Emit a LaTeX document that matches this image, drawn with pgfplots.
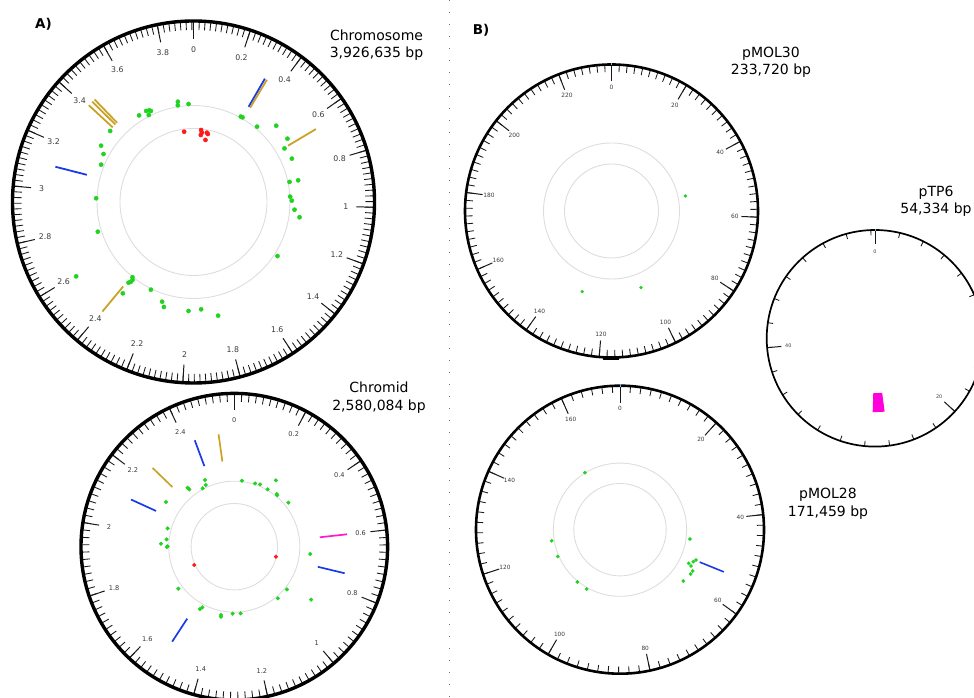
\documentclass[border=0pt]{standalone}
\usepackage{pgfplots}
\pgfplotsset{compat=1.18}
\usepackage{pgfplotstable}
\usepackage{fontspec}
\setmainfont{DejaVu Sans}
\definecolor{dgreen}{HTML}{1FD31F}
\definecolor{dred}{HTML}{FF1A1A}
\definecolor{dgold}{HTML}{C9A227}
\definecolor{dblue}{HTML}{1A3AE8}
\definecolor{dmag}{HTML}{FF1AC6}
\definecolor{psec}{HTML}{FF00DD}
\definecolor{ringgray}{HTML}{DDDDDD}
\definecolor{lblgray}{HTML}{3A3A3A}

% cx cy k step n r1 r2
\newcommand\minorticks[7]{%
  \foreach \k in {0,...,#5}{%
    \pgfmathsetmacro\a{90-\k*#4*#3}%
    \draw[line width=0.85pt, black!90] ([shift={(#1pt,#2pt)}]\a:#6pt) -- ([shift={(#1pt,#2pt)}]\a:#7pt);}}
% cx cy k list r1 r2 rl fontsize
\newcommand\majorticks[8]{%
  \foreach \v in {#4}{%
    \pgfmathsetmacro\a{90-\v*#3}%
    \draw[line width=1pt, black!90] ([shift={(#1pt,#2pt)}]\a:#5pt) -- ([shift={(#1pt,#2pt)}]\a:#6pt);
    \node[text=lblgray, font=\fontsize{#8}{#8}\selectfont, inner sep=0pt] at ([shift={(#1pt,#2pt)}]\a:#7pt) {\v};}}

\pgfplotsset{
  /pgfplots/table/chr/.style={/pgfplots/table/x expr={193.5+\thisrow{r}*sin(\thisrow{p}*91.6816)}, /pgfplots/table/y expr={496+\thisrow{r}*cos(\thisrow{p}*91.6816)}},
  /pgfplots/table/cmd/.style={/pgfplots/table/x expr={234.3+\thisrow{r}*sin(\thisrow{p}*139.5303)}, /pgfplots/table/y expr={151.3+\thisrow{r}*cos(\thisrow{p}*139.5303)}},
  /pgfplots/table/pm30/.style={/pgfplots/table/x expr={611.5+\thisrow{r}*sin(\thisrow{p}*1.5403047)}, /pgfplots/table/y expr={487+\thisrow{r}*cos(\thisrow{p}*1.5403047)}},
  /pgfplots/table/pm28/.style={/pgfplots/table/x expr={620+\thisrow{r}*sin(\thisrow{p}*2.099627)}, /pgfplots/table/y expr={168.3+\thisrow{r}*cos(\thisrow{p}*2.099627)}},
  /pgfplots/table/ptp/.style={/pgfplots/table/x expr={875+\thisrow{r}*sin(\thisrow{p}*6.625686)}, /pgfplots/table/y expr={359.7+\thisrow{r}*cos(\thisrow{p}*6.625686)}},
}

% position (Mb or kb), radius
\pgfplotstableread{
p r
3.830 101.5
3.826 97.9
3.895 98.1
3.627 102.6
3.645 101.8
3.653 100.5
3.630 97.8
3.576 102.3
3.386 109.5
3.287 108.2
3.251 102.0
3.185 99.6
2.969 97.4
2.757 100.2
2.592 138.9
2.389 96.9
2.378 99.0
2.379 101.6
2.387 103.6
2.375 115.5
2.246 97.5
2.154 104.5
2.135 109.1
1.992 109.1
1.919 107.6
1.830 116.3
1.339 99.9
1.071 107.1
1.029 101.3
0.973 98.3
0.947 96.8
0.853 98.1
0.854 106.9
0.722 107.5
0.649 105.6
0.611 113.3
0.516 112.5
0.438 98.6
0.316 97.6
0.328 97.8
}\chrG
\pgfplotstableread{
p r
3.844 70.9
0.066 72.4
0.075 69.8
0.068 67.4
0.119 70.6
0.130 69.5
0.119 63.2
}\chrR
\pgfplotstableread{
p r
2.410 72.8
2.402 68.0
2.376 66.4
2.305 75.2
2.307 72.9
2.173 81.6
2.045 69.1
1.979 68.1
1.952 73.4
1.937 66.7
1.933 67.6
1.671 70.0
1.497 71.2
1.489 68.6
1.369 69.6
1.367 71.3
1.300 67.0
1.251 67.0
1.002 67.6
0.925 67.8
0.893 93.2
0.684 76.3
0.364 69.7
0.278 67.6
0.286 67.0
0.230 78.3
0.216 66.3
0.161 67.4
0.130 66.6
0.047 66.4
}\cmdG
\pgfplotstableread{
p r
1.759 44.0
0.742 42.8
}\cmdR
\pgfplotstableread{
p r
50.96 75.3
103.2 82.1
129.8 85.8
}\pmThirtyG
\pgfplotstableread{
p r
156.4 66.9
124.2 69.2
117.5 67.8
104.4 67.5
99.7 68.1
46.5 70.6
55.28 76.5
55.76 79.7
54.09 80.0
53.21 81.8
56.96 83.6
58.15 83.4
61.45 81.5
}\pmTwentyEightG

\begin{document}
\begin{tikzpicture}
\useasboundingbox (0,0) rectangle (974pt,698pt);
\clip (0,0) rectangle (974pt,698pt);

% separator
\draw[black!55, line width=1pt, dash pattern=on 1pt off 11pt] (449pt,698pt) -- (449pt,0pt);

% ---- Chromosome ring
\draw[ringgray, line width=0.9pt] (193.5pt,496pt) circle[radius=96.5pt];
\draw[ringgray, line width=0.9pt] (193.5pt,496pt) circle[radius=73.5pt];
\minorticks{193.5}{496}{91.6816}{0.02}{196}{172}{180}
\majorticks{193.5}{496}{91.6816}{0,0.2,0.4,0.6,0.8,1,1.2,1.4,1.6,1.8,2,2.2,2.4,2.6,2.8,3,3.2,3.4,3.6,3.8}{163}{180}{152.5}{7.8}
\draw[black, line width=3.4pt] (193.5pt,496pt) circle[radius=181pt];

% ---- Chromid ring
\draw[ringgray, line width=0.9pt] (234.3pt,151.3pt) circle[radius=65.5pt];
\draw[ringgray, line width=0.9pt] (234.3pt,151.3pt) circle[radius=43.2pt];
\minorticks{234.3}{151.3}{139.5303}{0.02}{129}{145}{152}
\majorticks{234.3}{151.3}{139.5303}{0,0.2,0.4,0.6,0.8,1,1.2,1.4,1.6,1.8,2,2.2,2.4}{137}{152}{127}{6.6}
\draw[black, line width=3.4pt] (234.3pt,151.3pt) circle[radius=153.3pt];

% ---- pMOL30 ring
\draw[ringgray, line width=0.9pt] (611.5pt,487pt) circle[radius=68pt];
\draw[ringgray, line width=0.9pt] (611.5pt,487pt) circle[radius=47pt];
\minorticks{611.5}{487}{1.5403047}{2}{116}{139}{146}
\majorticks{611.5}{487}{1.5403047}{0,20,40,60,80,100,120,140,160,180,200,220}{130}{146}{123.5}{5.9}
\draw[black, line width=2.6pt] (611.5pt,487pt) circle[radius=146.5pt];
\draw[cyan!70, line width=1pt] (611.5pt,632.5pt) -- (611.5pt,635pt);

% ---- pMOL28 ring
\draw[ringgray, line width=0.9pt] (620pt,168.3pt) circle[radius=66.6pt];
\draw[ringgray, line width=0.9pt] (620pt,168.3pt) circle[radius=46.2pt];
\minorticks{620}{168.3}{2.099627}{2}{85}{137}{143}
\majorticks{620}{168.3}{2.099627}{0,20,40,60,80,100,120,140,160}{127}{143}{121}{5.8}
\draw[black, line width=2.6pt] (620pt,168.3pt) circle[radius=144pt];
\draw[cyan!70, line width=1pt] (620pt,311pt) -- (620pt,313.5pt);

% ---- pTP6 ring
\minorticks{875}{359.7}{6.625686}{2}{27}{103}{108}
\majorticks{875}{359.7}{6.625686}{0,20,40}{94}{108}{87}{4.9}
\draw[black, line width=1.7pt] (875pt,359.7pt) circle[radius=108.3pt];
\draw[cyan!70, line width=0.8pt] (875pt,467pt) -- (875pt,469pt);

% ---- titles
\node[font=\bfseries\fontsize{13.5}{16}\selectfont, anchor=base] at (43.5pt,669pt) {A)};
\node[font=\bfseries\fontsize{13.5}{16}\selectfont, anchor=base] at (481pt,663pt) {B)};
\node[font=\fontsize{14}{17}\selectfont, anchor=base] at (376.5pt,657.9pt) {Chromosome};
\node[font=\fontsize{14}{17}\selectfont, anchor=base] at (376.5pt,640.2pt) {3,926,635 bp};
\node[font=\fontsize{14}{17}\selectfont, anchor=base] at (379pt,305pt) {Chromid};
\node[font=\fontsize{14}{17}\selectfont, anchor=base] at (379pt,287.3pt) {2,580,084 bp};
\node[font=\fontsize{14}{17}\selectfont, anchor=base] at (771pt,640.5pt) {pMOL30};
\node[font=\fontsize{14}{17}\selectfont, anchor=base] at (771pt,623pt) {233,720 bp};
\node[font=\fontsize{14}{17}\selectfont, anchor=base] at (936pt,501.3pt) {pTP6};
\node[font=\fontsize{14}{17}\selectfont, anchor=base] at (936pt,484pt) {54,334 bp};
\node[font=\fontsize{14}{17}\selectfont, anchor=base] at (828pt,199pt) {pMOL28};
\node[font=\fontsize{14}{17}\selectfont, anchor=base] at (828pt,181pt) {171,459 bp};

\begin{axis}[at={(0pt,0pt)}, anchor=south west, width=974pt, height=698pt,
  scale only axis, xmin=0, xmax=974, ymin=0, ymax=698, hide axis, clip=false]
% Chromosome
\addplot[only marks, mark=*, mark size=2.1pt, color=dgreen] table[chr] {\chrG};
\addplot[only marks, mark=*, mark size=2.1pt, color=dred] table[chr] {\chrR};
\addplot[dblue, line width=1.8pt] table[chr, row sep=\\] {p r\\ 0.328 110\\ 0.328 142.5\\};
\addplot[dgold, line width=1.8pt] table[chr, row sep=\\] {p r\\ 0.338 110\\ 0.338 142.5\\};
\addplot[dgold, line width=1.8pt] table[chr, row sep=\\] {p r\\ 0.646 110\\ 0.646 142.5\\};
\addplot[dgold, line width=1.8pt] table[chr, row sep=\\] {p r\\ 3.411 110\\ 3.411 142.5\\};
\addplot[dgold, line width=1.8pt] table[chr, row sep=\\] {p r\\ 3.433 110\\ 3.433 142.5\\};
\addplot[dgold, line width=1.8pt] table[chr, row sep=\\] {p r\\ 3.447 110\\ 3.447 142.5\\};
\addplot[dblue, line width=1.8pt] table[chr, row sep=\\] {p r\\ 3.101 110\\ 3.101 142.5\\};
\addplot[dgold, line width=1.8pt] table[chr, row sep=\\] {p r\\ 2.397 110\\ 2.397 142.5\\};
% Chromid
\addplot[only marks, mark=*, mark size=1.85pt, color=dgreen] table[cmd] {\cmdG};
\addplot[only marks, mark=*, mark size=1.85pt, color=dred] table[cmd] {\cmdR};
\addplot[dgold, line width=1.7pt] table[cmd, row sep=\\] {p r\\ 2.523 86\\ 2.523 113.5\\};
\addplot[dblue, line width=1.7pt] table[cmd, row sep=\\] {p r\\ 2.434 86\\ 2.434 113.5\\};
\addplot[dgold, line width=1.7pt] table[cmd, row sep=\\] {p r\\ 2.250 86\\ 2.250 113.5\\};
\addplot[dblue, line width=1.7pt] table[cmd, row sep=\\] {p r\\ 2.111 86\\ 2.111 113.5\\};
\addplot[dmag, line width=1.7pt] table[cmd, row sep=\\] {p r\\ 0.600 86\\ 0.600 113.5\\};
\addplot[dblue, line width=1.7pt] table[cmd, row sep=\\] {p r\\ 0.742 86\\ 0.742 113.5\\};
\addplot[dblue, line width=1.7pt] table[cmd, row sep=\\] {p r\\ 1.528 86\\ 1.528 113.5\\};
% pMOL30
\addplot[only marks, mark=*, mark size=1.5pt, color=dgreen] table[pm30] {\pmThirtyG};
\addplot[black, line width=3pt] table[pm30, row sep=\\] {p r\\ 115 147.5\\ 117 147.5\\ 119 147.5\\};
% pMOL28
\addplot[only marks, mark=*, mark size=1.65pt, color=dgreen] table[pm28] {\pmTwentyEightG};
\addplot[dblue, line width=1.6pt] table[pm28, row sep=\\] {p r\\ 53.4 86\\ 53.4 112\\};
% pTP6
\addplot[fill=psec, draw=none] table[ptp, row sep=\\] {p r\\ 26.04 55\\ 27.44 55\\ 27.44 74\\ 26.04 74\\} -- cycle;
\end{axis}
\end{tikzpicture}
\end{document}
